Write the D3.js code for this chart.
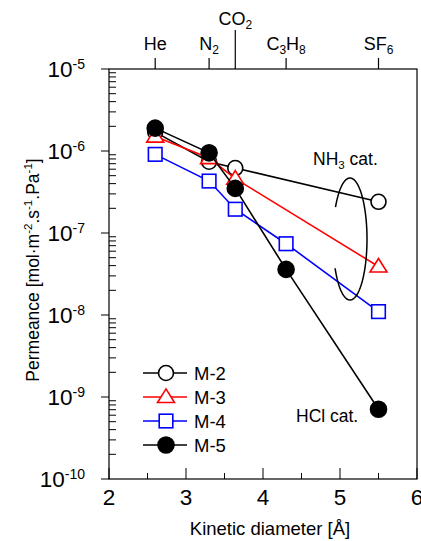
<!DOCTYPE html>
<html>
<head>
<meta charset="utf-8">
<script src="https://cdn.jsdelivr.net/npm/d3@7"></script>
<style>
  body { margin: 0; background: #fff; }
  svg { font-family: "Liberation Sans", Arial, sans-serif; }
</style>
</head>
<body>
<svg id="chart" width="421" height="541"></svg>
<script>
// gases on the top axis
const gases = [
  { name: "He", sub: "" },
  { name: "N", sub: "2" },
  { name: "CO", sub: "2" },
  { name: "C3H8", sub: "" },
  { name: "SF", sub: "6" }
];
const diameters = [2.6, 3.3, 3.64, 4.3, 5.5];

// permeance per membrane (null = not measured)
const m2 = [1.7e-6, 7.4e-7, 6.2e-7, null, 2.4e-7];
const m3 = [1.5e-6, 8.2e-7, 4.6e-7, null, 3.9e-8];
const m4 = [9.1e-7, 4.3e-7, 1.95e-7, 7.4e-8, 1.1e-8];
const m5 = [1.9e-6, 9.5e-7, 3.5e-7, 3.6e-8, 7.1e-10];

const series = [
  { name: "M-2", values: m2, color: "#000", shape: "circle", fill: "#fff" },
  { name: "M-3", values: m3, color: "#ff0000", shape: "triangle", fill: "#fff" },
  { name: "M-4", values: m4, color: "#0000ff", shape: "square", fill: "#fff" },
  { name: "M-5", values: m5, color: "#000", shape: "circle", fill: "#000" }
];

const xTicks = [2, 3, 4, 5, 6];
const yTicks = [-5, -6, -7, -8, -9, -10];

const svg = d3.select("#chart");
const margin = { left: 109, right: 4, top: 69, bottom: 62 };
const W = 421, H = 541;

const x = d3.scaleLinear().domain([2, 6]).range([margin.left, W - margin.right]);
const y = d3.scaleLog().domain([1e-10, 1e-5]).range([H - margin.bottom, margin.top]);

// frame
svg.append("rect")
  .attr("x", x(2)).attr("y", y(1e-5))
  .attr("width", x(6) - x(2)).attr("height", y(1e-10) - y(1e-5))
  .attr("fill", "none").attr("stroke", "#000").attr("stroke-width", 1.2);

// y major ticks (outside) + labels
const yMaj = svg.append("g");
yTicks.forEach(e => {
  const yy = y(Math.pow(10, e));
  yMaj.append("line").attr("x1", x(2) - 8).attr("x2", x(2))
    .attr("y1", yy).attr("y2", yy).attr("stroke", "#000").attr("stroke-width", 1);
  const t = yMaj.append("text").attr("x", 85).attr("y", yy + 8)
    .attr("text-anchor", "end").attr("font-size", 22.5);
  t.append("tspan").text("10");
  t.append("tspan").attr("dy", -8).attr("font-size", 14).text(e);
});
// y minor ticks (inside)
for (let e = -10; e < -5; e++) {
  for (let k = 2; k <= 9; k++) {
    const yy = y(k * Math.pow(10, e));
    svg.append("line").attr("x1", x(2)).attr("x2", x(2) + 7)
      .attr("y1", yy).attr("y2", yy).attr("stroke", "#000").attr("stroke-width", 1);
  }
}

// x ticks (inside)
d3.range(2, 6.01, 0.5).forEach(v => {
  const major = Number.isInteger(v);
  svg.append("line").attr("x1", x(v)).attr("x2", x(v))
    .attr("y1", y(1e-10)).attr("y2", y(1e-10) - (major ? 11 : 6))
    .attr("stroke", "#000").attr("stroke-width", 1);
});
xTicks.forEach(v => {
  svg.append("text").attr("x", x(v)).attr("y", 505)
    .attr("text-anchor", "middle").attr("font-size", 22.5).text(v);
});
svg.append("text").attr("x", 270).attr("y", 535)
  .attr("text-anchor", "middle").attr("font-size", 18.5).text("Kinetic diameter [Å]");

// y title
const yt = svg.append("text")
  .attr("transform", `translate(39, 270) rotate(-90)`)
  .attr("text-anchor", "middle").attr("font-size", 17.5);
yt.append("tspan").text("Permeance [mol·m");
yt.append("tspan").attr("dy", -7).attr("font-size", 11.5).text("-2");
yt.append("tspan").attr("dy", 7).text(".s");
yt.append("tspan").attr("dy", -7).attr("font-size", 11.5).text("-1");
yt.append("tspan").attr("dy", 7).text(".Pa");
yt.append("tspan").attr("dy", -7).attr("font-size", 11.5).text("-1");
yt.append("tspan").attr("dy", 7).text("]");

// top gas ticks and labels
gases.forEach((g, i) => {
  const xx = x(diameters[i]);
  const isCO2 = g.name === "CO";
  svg.append("line").attr("x1", xx).attr("x2", xx)
    .attr("y1", y(1e-5)).attr("y2", isCO2 ? 30 : 58)
    .attr("stroke", "#000").attr("stroke-width", 1.2);
  const t = svg.append("text").attr("x", xx).attr("y", isCO2 ? 25 : 50)
    .attr("text-anchor", "middle").attr("font-size", 18);
  if (g.name === "C3H8") {
    t.append("tspan").text("C");
    t.append("tspan").attr("dy", 4).attr("font-size", 12).text("3");
    t.append("tspan").attr("dy", -4).text("H");
    t.append("tspan").attr("dy", 4).attr("font-size", 12).text("8");
  } else {
    t.append("tspan").text(g.name);
    if (g.sub) t.append("tspan").attr("dy", 4).attr("font-size", 12).text(g.sub);
  }
});

// marker drawing
function marker(sel, s, cx, cy) {
  if (s.shape === "circle") {
    sel.append("circle").attr("cx", cx).attr("cy", cy).attr("r", s.fill === "#000" ? 8 : 7.5)
      .attr("fill", s.fill).attr("stroke", s.color).attr("stroke-width", 1.6);
  } else if (s.shape === "square") {
    sel.append("rect").attr("x", cx - 6.8).attr("y", cy - 6.8).attr("width", 13.6).attr("height", 13.6)
      .attr("fill", s.fill).attr("stroke", s.color).attr("stroke-width", 1.6);
  } else {
    const r = 8.5;
    sel.append("path")
      .attr("d", `M${cx},${cy - r * 0.95}L${cx + r},${cy + r * 0.65}L${cx - r},${cy + r * 0.65}Z`)
      .attr("fill", s.fill).attr("stroke", s.color).attr("stroke-width", 1.6);
  }
}

const line = d3.line().x(d => x(d.d)).y(d => y(d.v));

series.forEach(s => {
  const pts = s.values.map((v, i) => ({ d: diameters[i], v })).filter(p => p.v != null);
  const g = svg.append("g");
  g.append("path").datum(pts).attr("d", line)
    .attr("fill", "none").attr("stroke", s.color).attr("stroke-width", 1.6);
  pts.forEach(p => marker(g, s, x(p.d), y(p.v)));
});

// NH3 ellipse annotation (left side broken where lines pass)
const ecx = 350, ecy = 239, erx = 17, ery = 61;
const arc = d3.range(0, 1.001, 0.01);
function ellArc(a0, a1) {
  return d3.line()(arc.map(t => {
    const a = a0 + (a1 - a0) * t;
    return [ecx + erx * Math.cos(a), ecy + ery * Math.sin(a)];
  }));
}
svg.append("path").attr("d", ellArc(-Math.PI * 1.0 + 0.55, Math.PI * 1.0 - 0.5))
  .attr("fill", "none").attr("stroke", "#000").attr("stroke-width", 1.5);

const nh = svg.append("text").attr("x", 313).attr("y", 165).attr("font-size", 17.5);
nh.append("tspan").text("NH");
nh.append("tspan").attr("dy", 4).attr("font-size", 11.5).text("3");
nh.append("tspan").attr("dy", -4).text(" cat.");

svg.append("text").attr("x", 296).attr("y", 422).attr("font-size", 17.5).text("HCl cat.");

// legend
series.forEach((s, i) => {
  const ly = 373 + i * 24;
  svg.append("line").attr("x1", 143).attr("x2", 187).attr("y1", ly).attr("y2", ly)
    .attr("stroke", s.color).attr("stroke-width", 1.6);
  marker(svg, s, 166, ly);
  svg.append("text").attr("x", 194).attr("y", ly + 6.5).attr("font-size", 18.5).text(s.name);
});
</script>
</body>
</html>
